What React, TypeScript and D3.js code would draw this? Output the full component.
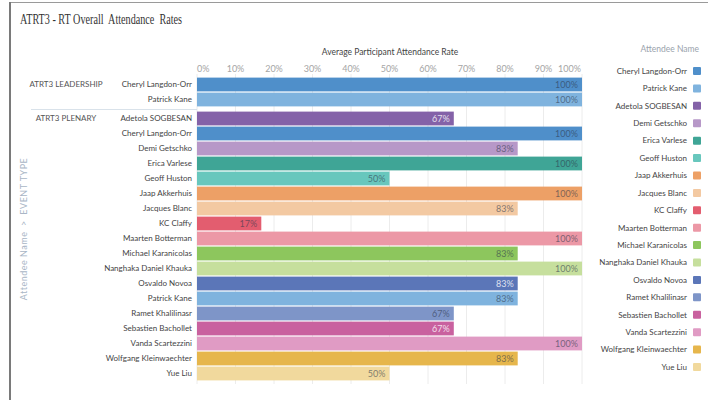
import React from 'react'
import * as d3 from 'd3'

const title = 'ATRT3 - RT Overall  Attendance  Rates'
const xTitle = 'Average Participant Attendance Rate'
const yTitle = 'Attendee Name  >  EVENT TYPE'
const legendTitle = 'Attendee Name'

const xTicks = [0, 10, 20, 30, 40, 50, 60, 70, 80, 90, 100]

const groupNames = ['ATRT3 LEADERSHIP', 'ATRT3 PLENARY']

const leadershipNames = ['Cheryl Langdon-Orr', 'Patrick Kane']
const leadershipValues = [100, 100]

const plenaryNames = [
  'Adetola SOGBESAN',
  'Cheryl Langdon-Orr',
  'Demi Getschko',
  'Erica Varlese',
  'Geoff Huston',
  'Jaap Akkerhuis',
  'Jacques Blanc',
  'KC Claffy',
  'Maarten Botterman',
  'Michael Karanicolas',
  'Nanghaka Daniel Khauka',
  'Osvaldo Novoa',
  'Patrick Kane',
  'Ramet Khalilinasr',
  'Sebastien Bachollet',
  'Vanda Scartezzini',
  'Wolfgang Kleinwaechter',
  'Yue Liu',
]
const plenaryValues = [66.7, 100, 83.3, 100, 50, 100, 83.3, 16.7, 100, 83.3, 100, 83.3, 83.3, 66.7, 66.7, 100, 83.3, 50]

const legendNames = [
  'Cheryl Langdon-Orr',
  'Patrick Kane',
  'Adetola SOGBESAN',
  'Demi Getschko',
  'Erica Varlese',
  'Geoff Huston',
  'Jaap Akkerhuis',
  'Jacques Blanc',
  'KC Claffy',
  'Maarten Botterman',
  'Michael Karanicolas',
  'Nanghaka Daniel Khauka',
  'Osvaldo Novoa',
  'Ramet Khalilinasr',
  'Sebastien Bachollet',
  'Vanda Scartezzini',
  'Wolfgang Kleinwaechter',
  'Yue Liu',
]
const legendColors = [
  '#4f8fca',
  '#7fb3de',
  '#8462a8',
  '#b798c8',
  '#3fa596',
  '#68c7bd',
  '#eda066',
  '#f3c9a2',
  '#e35d6f',
  '#ec98a6',
  '#8dc65d',
  '#c6df9d',
  '#5b76b8',
  '#7e95c8',
  '#c9619f',
  '#e09bc4',
  '#e6b64c',
  '#f1d99d',
]
// bars whose value label is drawn light
const lightLabelNames = ['Adetola SOGBESAN', 'Osvaldo Novoa', 'Sebastien Bachollet']

const W = 708
const H = 400
const sans = 'Lato, "Open Sans", sans-serif'

const App: React.FC = () => {
  const x = d3.scaleLinear().domain([0, 100]).range([197, 582])
  const color = d3.scaleOrdinal<string, string>().domain(legendNames).range(legendColors)

  const yLead = d3.scaleBand<string>().domain(leadershipNames).range([77, 107]).paddingInner(0.08).paddingOuter(0.04)
  const yPlen = d3.scaleBand<string>().domain(plenaryNames).range([111, 381]).paddingInner(0.08).paddingOuter(0.04)

  const groups = [
    { name: groupNames[0], names: leadershipNames, values: leadershipValues, y: yLead },
    { name: groupNames[1], names: plenaryNames, values: plenaryValues, y: yPlen },
  ]

  const legendY = d3.scaleLinear().domain([0, legendNames.length - 1]).range([71, 367])

  return (
    <svg width={W} height={H} style={{ position: 'absolute', left: 0, top: 0, background: '#fff' }}>
      {/* frame */}
      <line x1={9} x2={W} y1={2.5} y2={2.5} stroke="#9a9a9a" strokeWidth={1} />
      <line x1={10} x2={10} y1={2} y2={H} stroke="#7a7a7a" strokeWidth={2} />

      <text
        x={20}
        y={24}
        fontFamily='"Liberation Serif", "DejaVu Serif", serif'
        fontSize={14}
        fill="#333"
        textLength={162}
        lengthAdjust="spacingAndGlyphs"
        style={{ whiteSpace: 'pre' }}
      >
        {title}
      </text>

      {/* x axis title + ticks */}
      <text x={390} y={55} textAnchor="middle" fontFamily={sans} fontSize={8.5} fill="#444">
        {xTitle}
      </text>
      {xTicks.map((t, i) => (
        <g key={t}>
          <line x1={x(t)} x2={x(t)} y1={74} y2={384} stroke="#ececec" strokeWidth={1} />
          <text
            x={i === xTicks.length - 1 ? x(t) - 1 : x(t)}
            y={72}
            textAnchor={i === 0 ? 'start' : i === xTicks.length - 1 ? 'end' : 'middle'}
            fontFamily={sans}
            fontSize={9}
            fill="#a5a5a5"
          >
            {t}%
          </text>
        </g>
      ))}

      {/* group separator */}
      <line x1={31} x2={197} y1={109.5} y2={109.5} stroke="#d9e2ea" strokeWidth={1} />

      {/* y axis title */}
      <text
        transform="translate(27,229) rotate(-90)"
        textAnchor="middle"
        fontFamily={sans}
        fontSize={9}
        letterSpacing={0.5}
        fill="#a9b6c6"
        style={{ whiteSpace: 'pre' }}
      >
        {yTitle}
      </text>

      {groups.map((g) => (
        <g key={g.name}>
          <text
            x={66}
            y={(g.y(g.names[0]) ?? 0) + g.y.bandwidth() / 2}
            dy="0.35em"
            textAnchor="middle"
            fontFamily={sans}
            fontSize={8}
            fill="#555"
          >
            {g.name}
          </text>
          {g.names.map((n, i) => {
            const y0 = g.y(n) ?? 0
            const bh = g.y.bandwidth()
            const v = g.values[i]
            return (
              <g key={n}>
                <text x={192} y={y0 + bh / 2} dy="0.35em" textAnchor="end" fontFamily={sans} fontSize={8} fill="#444">
                  {n}
                </text>
                <rect x={x(0)} y={y0} width={x(v) - x(0)} height={bh} fill={color(n)} />
                <text
                  x={x(v) - 4}
                  y={y0 + bh / 2}
                  dy="0.35em"
                  textAnchor="end"
                  fontFamily={sans}
                  fontSize={9}
                  fill={lightLabelNames.includes(n) ? 'rgba(255,255,255,0.8)' : 'rgba(45,55,75,0.6)'}
                >
                  {Math.round(v)}%
                </text>
              </g>
            )
          })}
        </g>
      ))}

      {/* legend */}
      <text x={699} y={52} textAnchor="end" fontFamily={sans} fontSize={8.5} fill="#9aa3ad">
        {legendTitle}
      </text>
      {legendNames.map((n, i) => (
        <g key={n}>
          <text x={687} y={legendY(i)} dy="0.35em" textAnchor="end" fontFamily={sans} fontSize={8} fill="#444">
            {n}
          </text>
          <rect x={693} y={legendY(i) - 4} width={8} height={8} rx={1} fill={legendColors[i]} />
        </g>
      ))}
    </svg>
  )
}

export default App
